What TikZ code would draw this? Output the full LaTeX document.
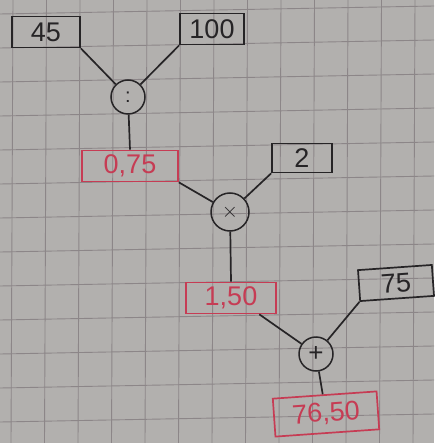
\documentclass[tikz,border=0pt]{standalone}
\usepackage{fontspec}
\setmainfont{Liberation Sans}
\definecolor{paper}{RGB}{178,176,174}
\definecolor{gridink}{RGB}{140,134,136}
\definecolor{ink}{RGB}{38,36,38}
\definecolor{redink}{RGB}{198,60,84}
\tikzset{
  numbox/.style={draw=ink, text=ink, line width=1.7pt, minimum height=31pt,
    inner sep=2pt, font=\fontsize{27}{27}\selectfont},
  redbox/.style={numbox, draw=redink, text=redink},
  opcirc/.style={circle, draw=ink, text=ink, line width=1.5pt, minimum size=34pt,
    inner sep=0pt, font=\fontsize{20}{20}\selectfont},
  wire/.style={draw=ink, line width=1.7pt}
}
\begin{document}
\begin{tikzpicture}[x=1pt,y=-1pt]
  \useasboundingbox (0,0) rectangle (434,443);
  % squared paper
  \begin{scope}
    \clip (0,0) rectangle (434,443);
    \fill[paper] (0,0) rectangle (434,443);
    \foreach \i in {0,...,13}
      \draw[gridink, line width=0.9pt] (13+33.5*\i,0) -- (11+33.5*\i,443);
    \foreach \j in {0,...,13}
      \draw[gridink, line width=0.9pt] (0,14+34*\j) -- (434,6+34*\j);
  \end{scope}

  % first step: 45 : 100
  \node[numbox, minimum width=68pt] (a) at (46,32) {45};
  \node[numbox, minimum width=64pt] (b) at (212,29) {100};
  \node[opcirc] (div) at (128,97) {:};
  \node[redbox, minimum width=96pt] (r1) at (130,166) {0,75};

  % second step: 0,75 x 2
  \node[numbox, minimum width=60pt, minimum height=29pt] (c) at (302,158) {2};
  \node[opcirc, minimum size=38pt] (mul) at (230,212) {$\times$};
  \node[redbox, minimum width=90pt] (r2) at (231,298) {1,50};

  % third step: 1,50 + 75
  \node[numbox, minimum width=74pt, rotate=4] (d) at (396,283) {75};
  \node[opcirc, font=\fontsize{26}{26}\selectfont] (add) at (316,354) {+};
  \node[redbox, minimum width=104pt, minimum height=38pt, rotate=4] (r3) at (326,414) {76,50};

  % connectors
  \draw[wire] (a.south east) -- (div);
  \draw[wire] (b.south west) -- (div);
  \draw[wire] (div) -- (r1.north);
  \draw[wire] (r1.south east) -- (mul);
  \draw[wire] (c.south west) -- (mul);
  \draw[wire] (mul) -- (r2.north);
  \draw[wire] (r2.-30) -- (add);
  \draw[wire] (d.south west) -- (add);
  \draw[wire] (add) -- (r3);
\end{tikzpicture}
\end{document}
